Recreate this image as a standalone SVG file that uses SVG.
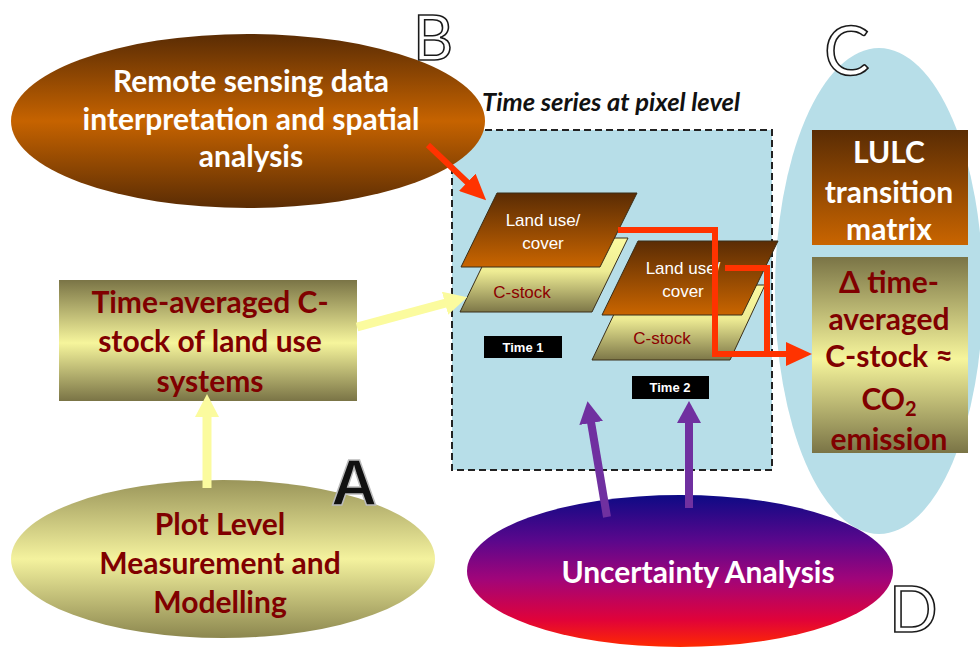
<svg xmlns="http://www.w3.org/2000/svg" width="980" height="648" viewBox="0 0 980 648">
<defs>
<linearGradient id="gBrownEll" x1="0" y1="0" x2="0" y2="1">
<stop offset="0" stop-color="#5a2c04"/><stop offset="0.5" stop-color="#c66300"/><stop offset="1" stop-color="#5a2c04"/>
</linearGradient>
<linearGradient id="gBrown" x1="0" y1="0" x2="0" y2="1">
<stop offset="0" stop-color="#5a2c04"/><stop offset="1" stop-color="#c96500"/>
</linearGradient>
<linearGradient id="gOlive" x1="0" y1="0" x2="0" y2="1">
<stop offset="0" stop-color="#7a7446"/><stop offset="0.52" stop-color="#f6f59c"/><stop offset="1" stop-color="#7a7446"/>
</linearGradient>
<linearGradient id="gOliveEll" x1="0" y1="0" x2="0" y2="1">
<stop offset="0" stop-color="#9a955a"/><stop offset="0.5" stop-color="#f4f29e"/><stop offset="1" stop-color="#8c874f"/>
</linearGradient>
<linearGradient id="gCstock" x1="0" y1="0" x2="0" y2="1">
<stop offset="0" stop-color="#fbfba0"/><stop offset="0.45" stop-color="#eeec94"/><stop offset="1" stop-color="#7d7748"/>
</linearGradient>
<linearGradient id="gUnc" x1="0" y1="0" x2="0" y2="1">
<stop offset="0" stop-color="#0d0a85"/><stop offset="0.3" stop-color="#5a078c"/><stop offset="0.55" stop-color="#a0057a"/><stop offset="0.82" stop-color="#e0023a"/><stop offset="1" stop-color="#ff2a00"/>
</linearGradient>
<marker id="mRed" markerUnits="userSpaceOnUse" markerWidth="26" markerHeight="24" refX="1" refY="12" orient="auto"><path d="M0,0 L26,12 L0,24 Z" fill="#ff3300"/></marker>
<marker id="mPurple" markerUnits="userSpaceOnUse" markerWidth="22" markerHeight="24" refX="1" refY="12" orient="auto"><path d="M0,0 L22,12 L0,24 Z" fill="#7030a0"/></marker>
<marker id="mYellow" markerUnits="userSpaceOnUse" markerWidth="23" markerHeight="24" refX="1" refY="12" orient="auto"><path d="M0,0 L23,12 L0,24 Z" fill="#fbfb9e"/></marker>
</defs>
<style>
.bw{font-family:Lato,"Liberation Sans",sans-serif;font-weight:bold;font-size:30px;fill:#ffffff;text-anchor:middle}
.br{font-family:Lato,"Liberation Sans",sans-serif;font-weight:bold;font-size:30px;fill:#800000;text-anchor:middle}
.pl{font-family:"Liberation Sans",Arial,sans-serif;font-size:17px;text-anchor:middle}
.tl{font-family:"Liberation Sans",Arial,sans-serif;font-weight:bold;font-size:13px;fill:#ffffff;text-anchor:middle}
.big{font-family:Lato,"Liberation Sans",sans-serif;fill:#ffffff;stroke:#1a1a1a;stroke-width:1.6}
.para{stroke:#3a2e18;stroke-width:1}
.red{fill:none;stroke:#ff3300;stroke-width:6}
.pur{fill:none;stroke:#7030a0;stroke-width:8}
.yel{fill:none;stroke:#fbfb9e;stroke-width:9}
</style>

<g id="timeseries">
<rect x="452" y="130" width="320" height="340" fill="#b7dee8" stroke="#222" stroke-width="2" stroke-dasharray="7 4"/>
</g>

<g id="ellipseC">
<ellipse cx="879" cy="291" rx="104" ry="243" fill="#b7dee8"/>
</g>

<g id="remote-sensing">
<ellipse cx="248" cy="121" rx="237" ry="87" fill="url(#gBrownEll)"/>
<text class="bw" x="251" y="92">Remote sensing data</text>
<text class="bw" x="251" y="130">interpretation and spatial</text>
<text class="bw" x="251" y="167">analysis</text>
</g>

<g id="title">
<text x="482" y="111" font-family="Lato,'Liberation Sans',sans-serif" font-weight="bold" font-style="italic" font-size="25.5" fill="#111">Time series at pixel level</text>
</g>

<g id="time-averaged">
<rect x="59" y="280" width="298" height="121" fill="url(#gOlive)"/>
<text class="br" x="210" y="313">Time-averaged C-</text>
<text class="br" x="210" y="352">stock of land use</text>
<text class="br" x="210" y="392">systems</text>
</g>

<g id="plot-level">
<ellipse cx="223" cy="559" rx="212" ry="79" fill="url(#gOliveEll)"/>
<text class="br" x="220" y="535">Plot Level</text>
<text class="br" x="220" y="574">Measurement and</text>
<text class="br" x="220" y="613">Modelling</text>
</g>

<g id="uncertainty">
<ellipse cx="680" cy="571" rx="213" ry="76" fill="url(#gUnc)"/>
<text class="bw" x="698" y="583">Uncertainty Analysis</text>
</g>

<g id="lulc">
<rect x="812" y="130" width="156" height="115" fill="url(#gBrown)"/>
<text class="bw" x="889" y="163">LULC</text>
<text class="bw" x="889" y="203">transition</text>
<text class="bw" x="889" y="240">matrix</text>
</g>

<g id="delta-cstock">
<rect x="812" y="257" width="156" height="196" fill="url(#gOlive)"/>
<text class="br" x="889" y="293">Δ time-</text>
<text class="br" x="889" y="330">averaged</text>
<text class="br" x="889" y="367">C-stock ≈</text>
<text class="br" x="889" y="410">CO<tspan font-size="20" dy="6">2</tspan></text>
<text class="br" x="889" y="450">emission</text>
</g>

<g id="cstock1">
<polygon class="para" points="496,238 628,238 592,312 460,312" fill="url(#gCstock)"/>
<text class="pl" x="522" y="298" fill="#8b0000">C-stock</text>
</g>
<g id="landuse1">
<polygon class="para" points="497,193 637,193 600,267 461,267" fill="url(#gBrown)"/>
<text class="pl" x="543" y="226" fill="#ffffff">Land use/</text>
<text class="pl" x="543" y="249" fill="#ffffff">cover</text>
</g>
<g id="time1">
<rect x="484" y="336" width="78" height="22" fill="#000"/>
<text class="tl" x="523" y="352">Time 1</text>
</g>

<g id="cstock2">
<polygon class="para" points="628,285 765,285 730,360 592,360" fill="url(#gCstock)"/>
<text class="pl" x="662" y="344" fill="#8b0000">C-stock</text>
</g>
<g id="landuse2">
<polygon class="para" points="638,241 778,241 742,315 602,315" fill="url(#gBrown)"/>
<text class="pl" x="683" y="274" fill="#ffffff">Land use/</text>
<text class="pl" x="683" y="297" fill="#ffffff">cover</text>
</g>
<g id="time2">
<rect x="632" y="376" width="77" height="23" fill="#000"/>
<text class="tl" x="670" y="392">Time 2</text>
</g>

<g id="letters">
<text class="big" x="413" y="60" font-size="62">B</text>
<text class="big" x="824" y="75" font-size="68">C</text>
<text x="331" y="505" font-family="'Liberation Sans',Arial,sans-serif" font-weight="bold" font-size="64" fill="#111" stroke="#bbb" stroke-width="1.5">A</text>
<text class="big" x="889" y="632" font-size="64">D</text>
</g>

<g id="connectors">
<path class="red" d="M428,145 L468,183" marker-end="url(#mRed)"/>
<path class="yel" d="M357,327 L446,303" marker-end="url(#mYellow)"/>
<path class="yel" d="M207,488 L207,416" marker-end="url(#mYellow)"/>
<path class="red" d="M618,230 H715 V354 H787" marker-end="url(#mRed)"/>
<path class="red" d="M725,268 H767 V354"/>
<path class="pur" d="M607,517 L591,422" marker-end="url(#mPurple)"/>
<path class="pur" d="M689,508 L689,422" marker-end="url(#mPurple)"/>
</g>
</svg>
